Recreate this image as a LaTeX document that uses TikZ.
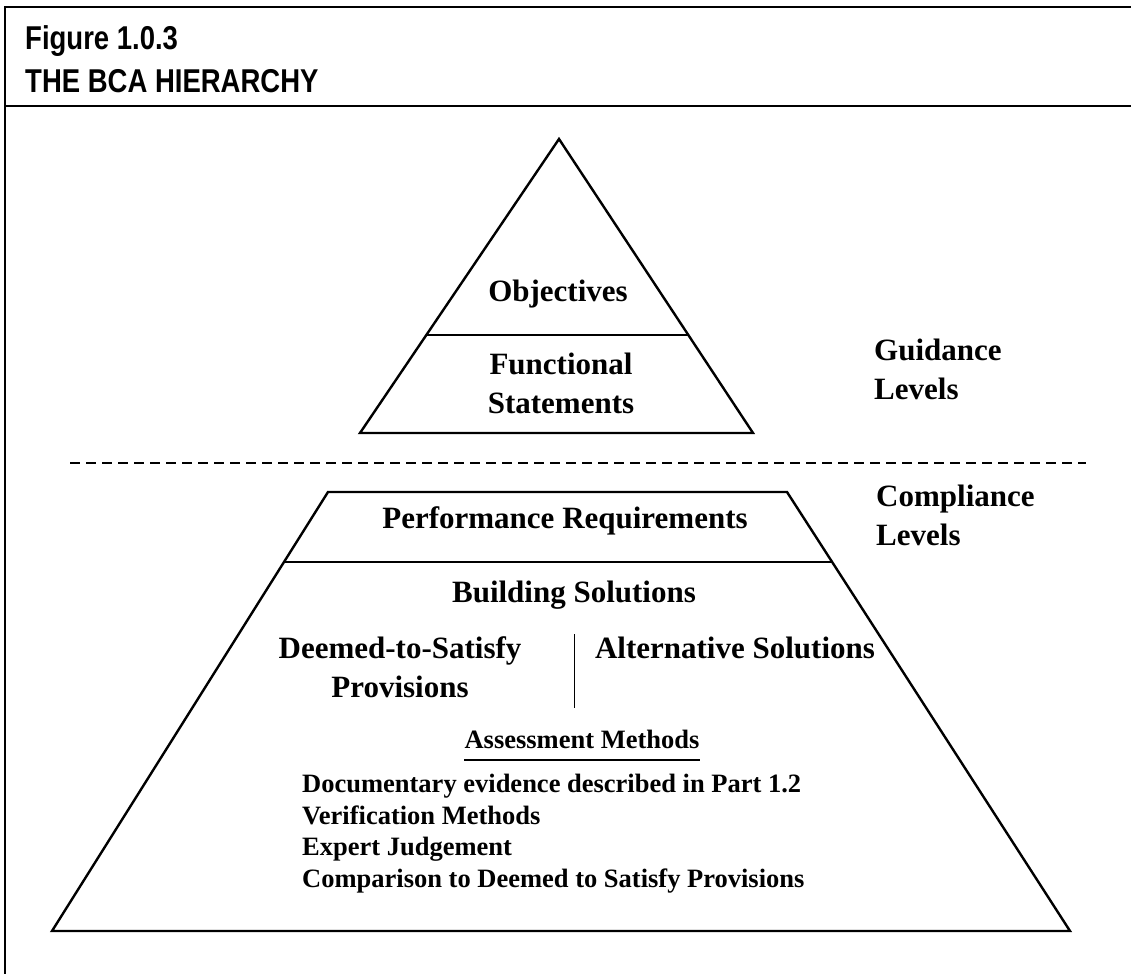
\documentclass[tikz,border=0pt]{standalone}
\usepackage{fontspec}
\usetikzlibrary{calc}
\setmainfont{Liberation Serif}
\newfontfamily\headfont{Liberation Sans}
\newcommand{\tallhead}[1]{\scalebox{1}[1.2]{#1}}
\begin{document}
\begin{tikzpicture}[x=1pt, y=-1pt,
    frame/.style={line width=1.8pt},
    level/.style={line width=2.4pt, line join=miter},
    label/.style={font=\fontsize{31}{39}\selectfont\bfseries, inner sep=0pt, align=center},
    sidelabel/.style={font=\fontsize{31}{39}\selectfont\bfseries, inner sep=0pt, align=left, anchor=base west},
    method/.style={font=\fontsize{26.5}{31.5}\selectfont\bfseries, inner sep=0pt},
    headtext/.style={font=\headfont\fontsize{27.5}{27.5}\selectfont\bfseries, inner sep=0pt, anchor=base west}]
    \useasboundingbox (0,0) rectangle (1131,974);
    \draw[frame] (1131,7) -- (5,7) -- (5,974);
    \draw[frame] (5,106) -- (1131,106);
    \node[headtext] (fig) at (25,49) {\tallhead{Figure 1.0.3}};
    \node[headtext] (title) at (25,92) {\tallhead{THE BCA HIERARCHY}};
    \coordinate (apex) at (559,139);
    \coordinate (tri bl) at (360,433);
    \coordinate (tri br) at (753,433);
    \coordinate (trap tl) at (328,492);
    \coordinate (trap tr) at (787,492);
    \coordinate (trap bl) at (52,931);
    \coordinate (trap br) at (1070,931);
    \draw[level] (apex) -- (tri br) -- (tri bl) -- cycle;
    \draw[level] ($(apex)!0.667!(tri bl)$) coordinate (obj l) -- ($(apex)!0.667!(tri br)$) coordinate (obj r);
    \draw[level] (trap tl) -- (trap tr) -- (trap br) -- (trap bl) -- cycle;
    \draw[level] ($(trap tl)!0.16!(trap bl)$) coordinate (perf l) -- ($(trap tr)!0.16!(trap br)$) coordinate (perf r);
    \draw[line width=1.4pt, dash pattern=on 10pt off 6pt] (70,463) coordinate (split l) -- (1086,463) coordinate (split r);
    \node[label, anchor=base] (obj) at (558,301) {Objectives};
    \node[label, anchor=base] (func) at (561,413) {Functional\\Statements};
    \node[sidelabel] (guide) at (874,399) {Guidance\\Levels};
    \node[sidelabel] (comply) at (876,545) {Compliance\\Levels};
    \node[label, anchor=base] (perf) at (565,528) {Performance Requirements};
    \node[label, anchor=base] (build) at (574,602) {Building Solutions};
    \node[label, anchor=base] (dts) at (400,697) {Deemed-to-Satisfy\\Provisions};
    \node[label, anchor=base] (alt) at (735,658) {Alternative Solutions};
    \draw[line width=1pt] (574,634) coordinate (sep top) -- (574,708) coordinate (sep bot);
    \node[method, anchor=base] (assess) at (582,748) {Assessment Methods};
    \draw[line width=2pt] ([yshift=-12pt]assess.base west) -- ([yshift=-12pt]assess.base east);
    \node[method, anchor=base west, align=left] (list) at (302,887)
        {Documentary evidence described in Part 1.2\\Verification Methods\\Expert Judgement\\Comparison to Deemed to Satisfy Provisions};
\end{tikzpicture}
\end{document}
